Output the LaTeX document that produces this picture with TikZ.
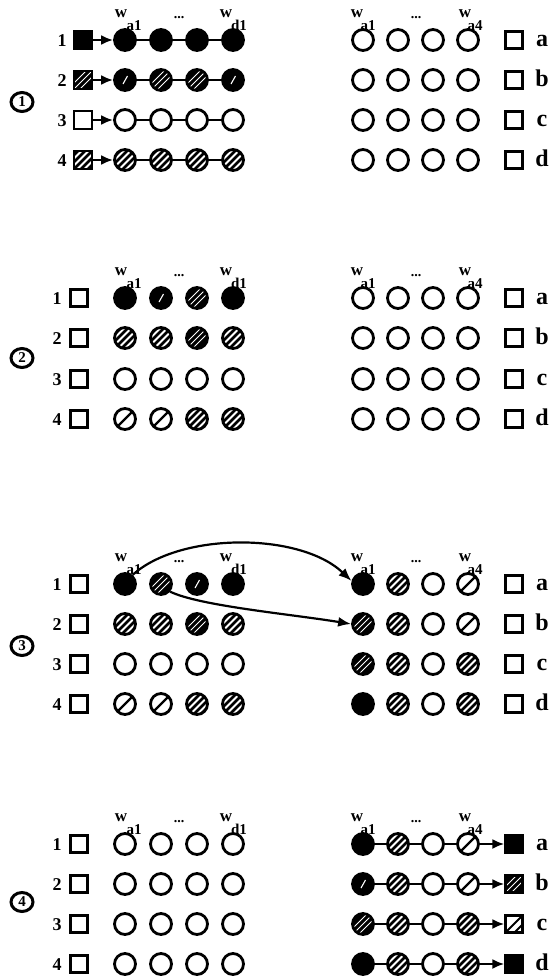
\documentclass[tikz,border=0pt]{standalone}
\usepackage{fontspec}
\setmainfont{Liberation Serif}
\usetikzlibrary{arrows.meta,shapes.geometric}

% diagonal stripes inside a shape: colour, width, spacing, list of offsets
\newcommand\hl[4]{\foreach \k in {#4}{\draw[#1,line width=#2]
  ([shift={(\k*#3-16pt,-16pt)}]path picture bounding box.center) --
  ([shift={(\k*#3+16pt,16pt)}]path picture bounding box.center);}}

\tikzset{
  cir/.style={circle, draw=black, line width=2.8pt, minimum size=21pt, inner sep=0pt},
  copn/.style={cir, fill=white},
  cblk/.style={cir, fill=black},
  chat/.style={cir, fill=white, path picture={\hl{black}{2.8pt}{7pt}{-3,...,3}}},
  cdhat/.style={cir, fill=black, path picture={\hl{white}{0.9pt}{6pt}{-1,0,1}}},
  csl/.style={cir, fill=white, path picture={\hl{black}{2.2pt}{6pt}{0}}},
  cdsl/.style={cir, fill=black, path picture={\draw[white,line width=1.1pt]
      ([shift={(-2pt,-4pt)}]path picture bounding box.center) --
      ([shift={(2.5pt,4pt)}]path picture bounding box.center);}},
  sq/.style={rectangle, draw=black, line width=2.4pt, minimum size=17pt, inner sep=0pt},
  qopn/.style={sq, fill=white},
  qblk/.style={sq, fill=black},
  qdhat/.style={sq, fill=black, path picture={\hl{white}{0.9pt}{6pt}{-1,0,1}}},
  qhat/.style={sq, fill=white, path picture={\hl{black}{2.8pt}{7pt}{-3,...,3}}},
  qsl/.style={sq, fill=white, path picture={\hl{black}{1.8pt}{9pt}{0,1}}},
  link/.style={line width=2pt},
  feed/.style={line width=2.2pt, -{Latex[length=12pt,width=10pt]}},
  swing/.style={line width=2.2pt, -{Latex[length=13pt,width=10pt]}},
  rowlab/.style={font=\fontsize{18}{18}\selectfont\bfseries, anchor=base, inner sep=0pt},
  letter/.style={font=\fontsize{24}{24}\selectfont\bfseries, anchor=base, inner sep=0pt},
  wl/.style={font=\fontsize{17}{17}\selectfont\bfseries, anchor=base, inner sep=0pt},
  subl/.style={font=\fontsize{15}{15}\selectfont\bfseries, anchor=base, inner sep=0pt},
  dotsl/.style={font=\fontsize{14}{14}\selectfont\bfseries, anchor=base, inner sep=0pt},
  cnum/.style={ellipse, draw=black, line width=3pt, minimum width=22pt,
    minimum height=19pt, inner sep=0pt, font=\fontsize{15}{15}\selectfont\bfseries}
}

% four circles of a row in the left grid / right grid
\newcommand\leftrow[4]{\foreach \st [count=\c] in {#4}{\node[\st] (L#1-#2-\c) at ({125+(\c-1)*36},#3) {};}}
\newcommand\rightrow[4]{\foreach \st [count=\c] in {#4}{\node[\st] (R#1-#2-\c) at ({363+(\c-1)*35},#3) {};}}
% row number and square on the left
\newcommand\leftlab[4]{\node[rowlab] (n#1-#2) at (57,#3+6) {#2};\node[#4] (s#1-#2) at (79,#3) {};}
% square and letter on the right
\newcommand\rightlab[5]{\node[#4] (q#1-#2) at (514,#3) {};\node[letter] (t#1-#2) at (542,#3+6) {#5};}
% weight labels above the grids
\newcommand\wleft[2]{%
  \node[wl] (wa#1) at (121,#2-23) {w};\node[subl] (sa#1) at (134,#2-10) {a1};
  \node[dotsl] (dl#1) at (179,#2-22) {...};
  \node[wl] (wd#1) at (226,#2-23) {w};\node[subl] (sd#1) at (239,#2-10) {d1};}
\newcommand\wright[2]{%
  \node[wl] (wr#1) at (357,#2-23) {w};\node[subl] (sr#1) at (368,#2-10) {a1};
  \node[dotsl] (dr#1) at (416,#2-22) {...};
  \node[wl] (ws#1) at (465,#2-23) {w};\node[subl] (ss#1) at (475,#2-10) {a4};}

\begin{document}
\begin{tikzpicture}[x=1pt,y=-1pt]
\useasboundingbox (0,0) rectangle (554,980);

% ---------- stage 1 ----------
\node[cnum] (c1) at (22,102) {1};
\node[rowlab] (n1-1) at (62,46) {1};\node[qblk,minimum size=18pt] (s1-1) at (83,40) {};
\node[rowlab] (n1-2) at (62,86) {2};\node[qdhat,minimum size=18pt] (s1-2) at (83,80) {};
\node[rowlab] (n1-3) at (62,126) {3};\node[qopn,minimum size=18pt] (s1-3) at (83,120) {};
\node[rowlab] (n1-4) at (62,166) {4};\node[qhat,minimum size=18pt] (s1-4) at (83,160) {};
\leftrow{1}{1}{40}{cblk,cblk,cblk,cblk}
\leftrow{1}{2}{80}{cdsl,cdhat,cdhat,cdsl}
\leftrow{1}{3}{120}{copn,copn,copn,copn}
\leftrow{1}{4}{160}{chat,chat,chat,chat}
\foreach \r in {1,...,4}{
  \draw[link] (L1-\r-1) -- (L1-\r-2) -- (L1-\r-3) -- (L1-\r-4);
  \draw[feed] (s1-\r) -- (L1-\r-1);}
\rightrow{1}{1}{40}{copn,copn,copn,copn}
\rightrow{1}{2}{80}{copn,copn,copn,copn}
\rightrow{1}{3}{120}{copn,copn,copn,copn}
\rightrow{1}{4}{160}{copn,copn,copn,copn}
\rightlab{1}{1}{40}{qopn}{a}
\rightlab{1}{2}{80}{qopn}{b}
\rightlab{1}{3}{120}{qopn}{c}
\rightlab{1}{4}{160}{qopn}{d}
\wleft{1}{40}
\wright{1}{40}

% ---------- stage 2 ----------
\node[cnum] (c2) at (22,358) {2};
\leftlab{2}{1}{298}{qopn}
\leftlab{2}{2}{338}{qopn}
\leftlab{2}{3}{379}{qopn}
\leftlab{2}{4}{419}{qopn}
\leftrow{2}{1}{298}{cblk,cdsl,cdhat,cblk}
\leftrow{2}{2}{338}{chat,chat,cdhat,chat}
\leftrow{2}{3}{379}{copn,copn,copn,copn}
\leftrow{2}{4}{419}{csl,csl,chat,chat}
\rightrow{2}{1}{298}{copn,copn,copn,copn}
\rightrow{2}{2}{338}{copn,copn,copn,copn}
\rightrow{2}{3}{379}{copn,copn,copn,copn}
\rightrow{2}{4}{419}{copn,copn,copn,copn}
\rightlab{2}{1}{298}{qopn}{a}
\rightlab{2}{2}{338}{qopn}{b}
\rightlab{2}{3}{379}{qopn}{c}
\rightlab{2}{4}{419}{qopn}{d}
\wleft{2}{298}
\wright{2}{298}

% ---------- stage 3 ----------
\node[cnum] (c3) at (22,646) {3};
\leftlab{3}{1}{584}{qopn}
\leftlab{3}{2}{624}{qopn}
\leftlab{3}{3}{664}{qopn}
\leftlab{3}{4}{704}{qopn}
\leftrow{3}{1}{584}{cblk,cdhat,cdsl,cblk}
\leftrow{3}{2}{624}{chat,chat,cdhat,chat}
\leftrow{3}{3}{664}{copn,copn,copn,copn}
\leftrow{3}{4}{704}{csl,csl,chat,chat}
\rightrow{3}{1}{584}{cblk,chat,copn,csl}
\rightrow{3}{2}{624}{cdhat,chat,copn,csl}
\rightrow{3}{3}{664}{cdhat,chat,copn,chat}
\rightrow{3}{4}{704}{cblk,chat,copn,chat}
\rightlab{3}{1}{584}{qopn}{a}
\rightlab{3}{2}{624}{qopn}{b}
\rightlab{3}{3}{664}{qopn}{c}
\rightlab{3}{4}{704}{qopn}{d}
\draw[swing] (L3-1-1.50) .. controls (180,532) and (300,532) .. (R3-1-1.165);
\draw[swing] (L3-1-2.-40) .. controls (200,606) and (290,614) .. (R3-2-1.180);
\wleft{3}{584}
\wright{3}{584}

% ---------- stage 4 ----------
\node[cnum] (c4) at (22,902) {4};
\leftlab{4}{1}{844}{qopn}
\leftlab{4}{2}{884}{qopn}
\leftlab{4}{3}{924}{qopn}
\leftlab{4}{4}{964}{qopn}
\leftrow{4}{1}{844}{copn,copn,copn,copn}
\leftrow{4}{2}{884}{copn,copn,copn,copn}
\leftrow{4}{3}{924}{copn,copn,copn,copn}
\leftrow{4}{4}{964}{copn,copn,copn,copn}
\rightrow{4}{1}{844}{cblk,chat,copn,csl}
\rightrow{4}{2}{884}{cdsl,chat,copn,csl}
\rightrow{4}{3}{924}{cdhat,chat,copn,chat}
\rightrow{4}{4}{964}{cblk,chat,copn,chat}
\rightlab{4}{1}{844}{qblk}{a}
\rightlab{4}{2}{884}{qdhat}{b}
\rightlab{4}{3}{924}{qsl}{c}
\rightlab{4}{4}{964}{qblk}{d}
\foreach \r in {1,...,4}{
  \draw[link] (R4-\r-1) -- (R4-\r-2) -- (R4-\r-3) -- (R4-\r-4);
  \draw[feed] (R4-\r-4) -- (q4-\r);}
\wleft{4}{844}
\wright{4}{844}
\end{tikzpicture}
\end{document}
